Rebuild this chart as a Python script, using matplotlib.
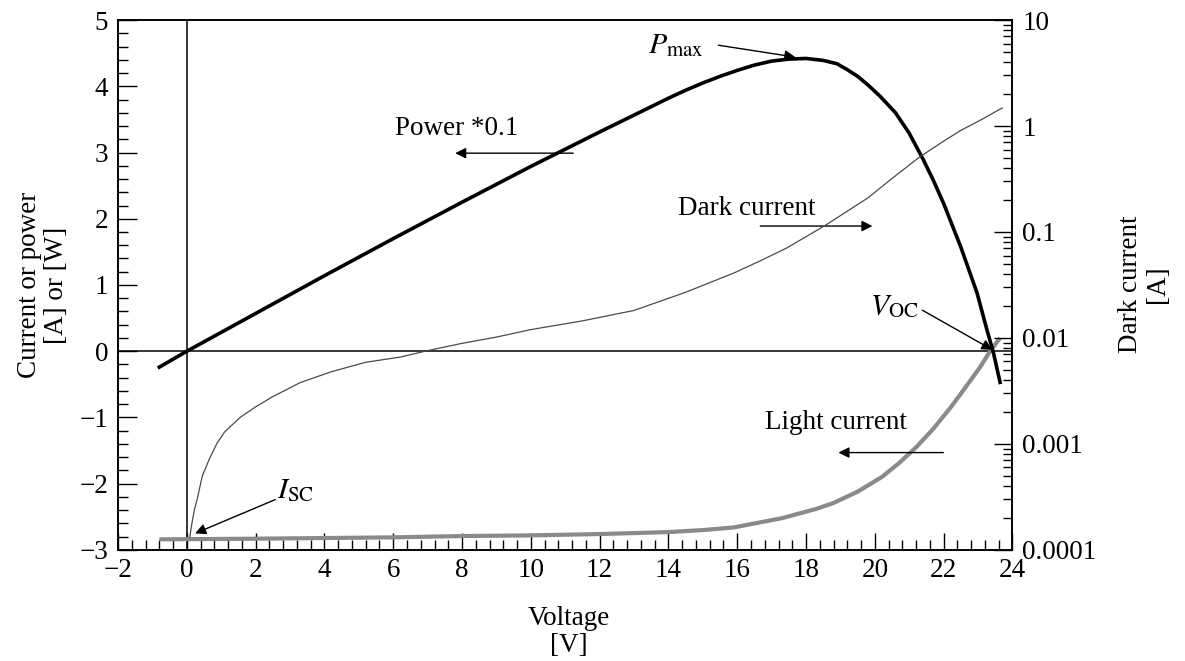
import matplotlib
matplotlib.use("Agg")
import matplotlib.pyplot as plt
from matplotlib.ticker import MultipleLocator, FixedLocator, FuncFormatter, LogLocator, NullFormatter

plt.rcParams["font.family"] = ["Liberation Serif", "DejaVu Serif"]
plt.rcParams["mathtext.fontset"] = "stix"

# Power * 0.1 (left axis)
power_v = [-0.8, 0, 2, 4, 6, 8, 10, 12, 14, 14.5, 15.0, 15.5, 16.0, 16.5, 17.0, 17.5, 18.0,
           18.5, 18.9, 19.2, 19.5, 19.8, 20.15, 20.6, 21.0, 21.4, 21.7, 22.0, 22.5, 22.97,
           23.26, 23.45, 23.64]
power_p = [-0.24, 0, 0.57, 1.14, 1.7, 2.25, 2.79, 3.31, 3.82, 3.94, 4.05, 4.15, 4.24, 4.32,
           4.38, 4.41, 4.42, 4.39, 4.34, 4.25, 4.15, 4.02, 3.85, 3.6, 3.29, 2.9, 2.58, 2.23,
           1.57, 0.88, 0.32, -0.03, -0.47]

# Light current (left axis)
light_v = [-0.8, 2, 4, 6, 8, 10, 12, 13, 14, 15.0, 15.9, 16.5, 16.9, 17.3, 17.8, 18.3, 18.8,
           19.5, 20.2, 20.7, 21.2, 21.7, 22.2, 22.6, 23.06, 23.35, 23.64]
light_i = [-2.84, -2.83, -2.82, -2.81, -2.79, -2.78, -2.76, -2.745, -2.73, -2.70, -2.66, -2.6,
           -2.56, -2.52, -2.45, -2.38, -2.29, -2.12, -1.9, -1.69, -1.45, -1.17, -0.85, -0.57,
           -0.24, 0.0, 0.2]

# Dark current (right log axis)
dark_v = [0.09, 0.12, 0.18, 0.22, 0.3, 0.45, 0.67, 0.88, 1.1, 1.55, 2.0, 2.5, 3.3, 4.2, 5.2,
          6.2, 7.0, 8.0, 9.0, 10.0, 11.5, 13.0, 14.5, 15.9, 16.7, 17.45, 18.55, 19.8, 20.5,
          21.3, 22.0, 22.5, 23.1, 23.7]
dark_i = [1.32e-4, 1.58e-4, 2.04e-4, 2.4e-4, 3.0e-4, 5.0e-4, 7.4e-4, 1.02e-3, 1.3e-3,
          1.78e-3, 2.24e-3, 2.8e-3, 3.8e-3, 4.8e-3, 5.9e-3, 6.6e-3, 7.6e-3, 8.9e-3, 1.02e-2,
          1.2e-2, 1.45e-2, 1.82e-2, 2.7e-2, 4.1e-2, 5.4e-2, 7.1e-2, 0.115, 0.21, 0.32, 0.51,
          0.72, 0.91, 1.15, 1.48]

right_ticks = [1e-4, 1e-3, 1e-2, 1e-1, 1, 10]
FS = 19.5

fig = plt.figure(figsize=(11.85, 6.61), dpi=100)
ax = fig.add_axes([0.0996, 0.168, 0.7548, 0.8017])
ax2 = ax.twinx()

ax.set_xlim(-2, 24)
ax.set_ylim(-3, 5)
ax2.set_yscale("log")
ax2.set_ylim(1e-4, 10)

ax.axhline(0, color="black", lw=1.1, zorder=1)
ax.axvline(0, color="black", lw=1.1, zorder=1)

ax.plot(light_v, light_i, color="#8a8a8a", lw=3.0, solid_capstyle="butt",
        solid_joinstyle="round", zorder=3)
ax.plot(power_v, power_p, color="black", lw=2.6, solid_joinstyle="round", zorder=4)
ax2.plot(dark_v, dark_i, color="#4a4a4a", lw=0.9, solid_joinstyle="round")

# ticks
ax.xaxis.set_major_locator(MultipleLocator(2))
ax.xaxis.set_minor_locator(MultipleLocator(0.4))
ax.yaxis.set_major_locator(MultipleLocator(1))
ax.yaxis.set_minor_locator(MultipleLocator(0.2))
ax.tick_params(axis="x", which="both", direction="in", top=False, bottom=True,
               labelsize=FS, pad=6, width=1)
ax.tick_params(axis="x", which="major", length=12)
ax.tick_params(axis="x", which="minor", length=7.5)
ax.tick_params(axis="y", which="both", direction="in", left=True, right=False,
               labelsize=FS, pad=7, width=1)
ax.tick_params(axis="y", which="major", length=13.5)
ax.tick_params(axis="y", which="minor", length=7.2)

ax2.yaxis.set_major_locator(FixedLocator(right_ticks))
ax2.yaxis.set_minor_locator(LogLocator(base=10, subs=range(2, 10)))
ax2.yaxis.set_minor_formatter(NullFormatter())
ax2.yaxis.set_major_formatter(FuncFormatter(lambda v, p: "%g" % v))
ax2.tick_params(axis="y", which="both", direction="in", right=True, left=False,
                labelsize=FS, pad=7, width=1)
ax2.tick_params(axis="y", which="major", length=13)
ax2.tick_params(axis="y", which="minor", length=6.5)

for a in (ax, ax2):
    for s in a.spines.values():
        s.set_linewidth(1.2)

# annotations
arrow = dict(arrowstyle="-|>", color="black", lw=1.0, mutation_scale=16,
             shrinkA=0, shrinkB=0)
ax.text(13.41, 4.62, r"$P_{\mathrm{max}}$", fontsize=FS + 2, ha="left", va="center")
ax.annotate("", xy=(17.69, 4.44), xytext=(15.45, 4.62), arrowprops=arrow)

ax.text(6.06, 3.37, "Power *0.1", fontsize=FS, ha="left", va="center")
ax.annotate("", xy=(7.80, 2.99), xytext=(11.23, 2.99), arrowprops=arrow)

ax.text(14.29, 2.16, "Dark current", fontsize=FS, ha="left", va="center")
ax.annotate("", xy=(19.93, 1.89), xytext=(16.67, 1.89), arrowprops=arrow)

ax.text(19.85, 0.68, r"$V_{\mathrm{OC}}$", fontsize=FS + 2, ha="left", va="center")
ax.annotate("", xy=(23.42, 0.02), xytext=(21.38, 0.62), arrowprops=arrow)

ax.text(16.82, -1.08, "Light current", fontsize=FS, ha="left", va="center")
ax.annotate("", xy=(18.94, -1.53), xytext=(21.99, -1.53), arrowprops=arrow)

ax.text(2.62, -2.1, r"$I_{\mathrm{SC}}$", fontsize=FS + 2, ha="left", va="center")
ax.annotate("", xy=(0.24, -2.75), xytext=(2.57, -2.24), arrowprops=arrow)

# axis labels
fig.text(43 / 1185, 0.569, "Current or power\n[A] or [W]", rotation=90, fontsize=FS,
         ha="center", va="center", multialignment="center", linespacing=1.1)
fig.text(1144 / 1185, 0.570, "Dark current\n[A]", rotation=90, fontsize=FS,
         ha="center", va="center", multialignment="center", linespacing=1.1)
fig.text(569 / 1185, 0.044, "Voltage\n[V]", fontsize=FS,
         ha="center", va="center", multialignment="center", linespacing=1.1)

fig.savefig("out.png", dpi=100)
